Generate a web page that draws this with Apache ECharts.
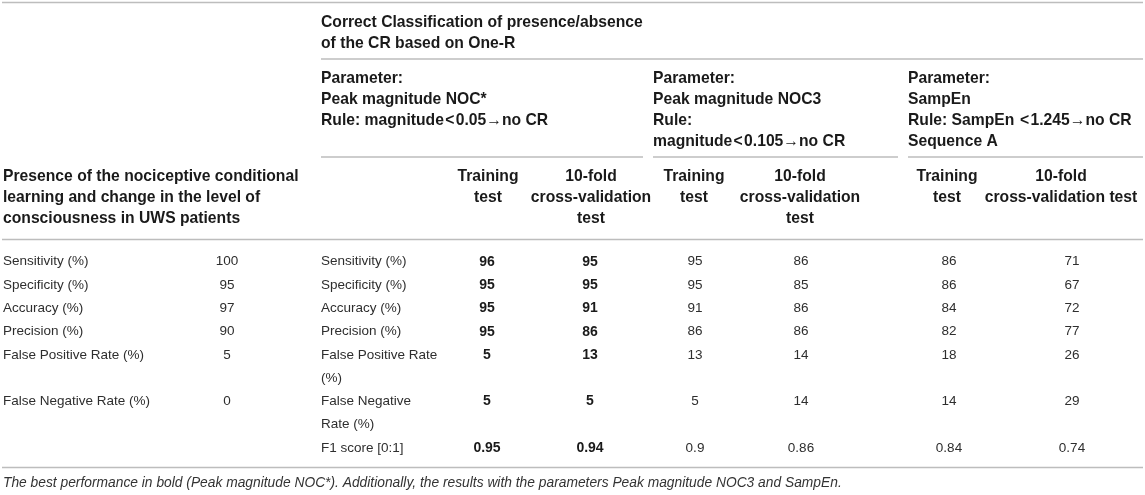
<!DOCTYPE html>
<html>
<head>
<meta charset="utf-8">
<script src="https://cdn.jsdelivr.net/npm/echarts@6/dist/echarts.min.js"></script>
<style>
html,body{margin:0;padding:0;background:#fff;}
#chart{width:1145px;height:495px;}
</style>
</head>
<body>
<div id="chart"></div>
<script>
// ---------- DATA ----------
const leftHeader = 'Presence of the nociceptive conditional\nlearning and change in the level of\nconsciousness in UWS patients';
const groupHeader = 'Correct Classification of presence/absence\nof the CR based on One-R';
const parameterHeaders = [
  'Parameter:\nPeak magnitude NOC*\nRule: magnitude\u200A<\u200A0.05\u2192no CR',
  'Parameter:\nPeak magnitude NOC3\nRule:\nmagnitude\u200A<\u200A0.105\u2192no CR',
  'Parameter:\nSampEn\nRule: SampEn \u200A<\u200A1.245\u2192no CR\nSequence A'
];
const subHeaders = [
  'Training\ntest', '10-fold\ncross-validation\ntest',
  'Training\ntest', '10-fold\ncross-validation\ntest',
  'Training\ntest', '10-fold\ncross-validation test'
];
const uwsMetrics = ['Sensitivity (%)', 'Specificity (%)', 'Accuracy (%)', 'Precision (%)', 'False Positive Rate (%)', 'False Negative Rate (%)'];
const uwsValues = [100, 95, 97, 90, 5, 0];
const classifierMetrics = ['Sensitivity (%)', 'Specificity (%)', 'Accuracy (%)', 'Precision (%)', 'False Positive Rate\n(%)', 'False Negative\nRate (%)', 'F1 score [0:1]'];
const nocStarTraining = [96, 95, 95, 95, 5, 5, 0.95];
const nocStarCrossVal = [95, 95, 91, 86, 13, 5, 0.94];
const noc3Training = [95, 95, 91, 86, 13, 5, 0.9];
const noc3CrossVal = [86, 85, 86, 86, 14, 14, 0.86];
const sampEnTraining = [86, 86, 84, 82, 18, 14, 0.84];
const sampEnCrossVal = [71, 67, 72, 77, 26, 29, 0.74];
const footnote = 'The best performance in bold (Peak magnitude NOC*). Additionally, the results with the parameters Peak magnitude NOC3 and SampEn.';

// ---------- LAYOUT (axis units = pixels) ----------
const W = 1145, H = 495;
const FONT = '"Liberation Sans", Arial, Helvetica, sans-serif';
const leftX = 3, uwsValX = 227, metricX = 321;
const paramX = [321, 653, 908];
const subHeadX = [488, 591, 694, 800, 947, 1061];
const valueColX = [487, 590, 695, 801, 949, 1072];
const rowY = [261.7, 285, 308.3, 331.7, 355, 401.5, 448];
const bodyLH = 23, headLH = 21;
const rules = [
  [2, 2.5, 1143], [321, 59, 1143], [321, 157, 643], [653, 157, 898], [908, 157, 1143],
  [2, 239.5, 1143], [2, 467.5, 1143]
];

const REG = {fill: '#2e2e2e', fontSize: 13.5, fontWeight: 'normal'};
const BOLD = {fill: '#1a1a1a', fontSize: 15.7, fontWeight: 'bold'};
const BOLDV = {fill: '#1a1a1a', fontSize: 14, fontWeight: 'bold'};

const cells = [];
function put(x, y, text, st, align, lh, italic) {
  cells.push({value: [x, y], text: String(text), st: st, align: align || 'left', lh: lh, italic: !!italic});
}
// header
put(leftX, 177 - headLH / 2, leftHeader, BOLD, 'left', headLH);
put(metricX, 22.7 - headLH / 2, groupHeader, BOLD, 'left', 21.3);
parameterHeaders.forEach((t, i) => put(paramX[i], 79 - headLH / 2, t, BOLD, 'left', headLH));
subHeaders.forEach((t, i) => put(subHeadX[i], 177 - headLH / 2, t, BOLD, 'center', headLH));
// left block
uwsMetrics.forEach((t, i) => put(leftX, rowY[i] - bodyLH / 2, t, REG, 'left', bodyLH));
uwsValues.forEach((v, i) => put(uwsValX, rowY[i] - bodyLH / 2, v, REG, 'center', bodyLH));
// classifier block
classifierMetrics.forEach((t, i) => put(metricX, rowY[i] - bodyLH / 2, t, REG, 'left', bodyLH));
[nocStarTraining, nocStarCrossVal, noc3Training, noc3CrossVal, sampEnTraining, sampEnCrossVal].forEach((arr, c) => {
  arr.forEach((v, i) => put(valueColX[c], rowY[i] - bodyLH / 2, v, c < 2 ? BOLDV : REG, 'center', bodyLH));
});
// footnote
put(3, 483 - 9, footnote, {fill: '#333', fontSize: 13.8, fontWeight: 'normal'}, 'left', 18, true);

const chart = echarts.init(document.getElementById('chart'), null, {renderer: 'canvas'});
chart.setOption({
  animation: false,
  backgroundColor: '#fff',
  grid: {left: 0, right: 0, top: 0, bottom: 0},
  xAxis: {type: 'value', min: 0, max: W, show: false},
  yAxis: {type: 'value', min: 0, max: H, inverse: true, show: false},
  series: [
    {
      type: 'custom',
      clip: false,
      silent: true,
      data: rules,
      renderItem: function (params, api) {
        const a = api.coord([api.value(0), api.value(1)]);
        const b = api.coord([api.value(2), api.value(1)]);
        return {type: 'line', shape: {x1: a[0], y1: a[1], x2: b[0], y2: b[1]},
          style: {stroke: '#bdbdbd', lineWidth: 1.6}};
      }
    },
    {
      type: 'custom',
      clip: false,
      silent: true,
      data: cells.map(c => c.value),
      renderItem: function (params, api) {
        const c = cells[params.dataIndex];
        const p = api.coord([api.value(0), api.value(1)]);
        return {
          type: 'text', x: p[0], y: p[1],
          style: {
            text: c.text, fill: c.st.fill, fontSize: c.st.fontSize, fontWeight: c.st.fontWeight,
            fontStyle: c.italic ? 'italic' : 'normal', fontFamily: FONT,
            align: c.align, verticalAlign: 'top', lineHeight: c.lh
          }
        };
      }
    }
  ]
});
</script>
</body>
</html>
